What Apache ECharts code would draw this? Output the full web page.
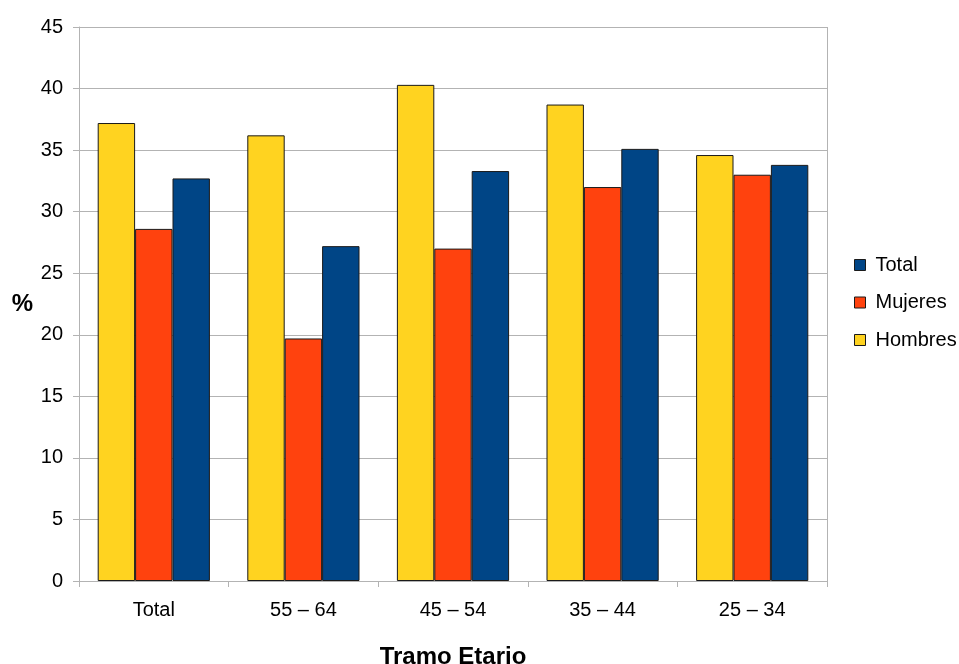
<!DOCTYPE html>
<html>
<head>
<meta charset="utf-8">
<script src="https://cdn.jsdelivr.net/npm/echarts@6/dist/echarts.min.js"></script>
<style>
  html, body { margin: 0; padding: 0; background: #fff; }
  #chart { width: 959px; height: 664px; }
</style>
</head>
<body>
<div id="chart"></div>
<script>
// Age brackets shown on the x axis
const categories = ['Total', '55 – 64', '45 – 54', '35 – 44', '25 – 34'];

// Percentages per bracket
const hombres = [37.2, 36.2, 40.3, 38.7, 34.6];
const mujeres = [28.6, 19.7, 27.0, 32.0, 33.0];
const total   = [32.7, 27.2, 33.3, 35.1, 33.8];

const colors = { hombres: '#ffd320', mujeres: '#ff420e', total: '#004586' };
const font = 'Liberation Sans, Arial, sans-serif';

const chart = echarts.init(document.getElementById('chart'));

function barSeries(name, data, color) {
  return {
    name: name,
    type: 'bar',
    data: data,
    barGap: '0%',
    barCategoryGap: '25%',
    itemStyle: { color: color, borderColor: '#1a1a1a', borderWidth: 1 },
    emphasis: { disabled: true }
  };
}

chart.setOption({
  animation: false,
  textStyle: { fontFamily: font },
  grid: {
    left: 79, right: 132, top: 27, bottom: 83,
    containLabel: false,
    outerBoundsMode: 'none'
  },
  legend: {
    orient: 'vertical',
    left: 854,
    top: 254,
    padding: 0,
    itemWidth: 11,
    itemHeight: 11,
    itemGap: 15.5,
    icon: 'rect',
    data: ['Total', 'Mujeres', 'Hombres'],
    itemStyle: { borderColor: '#1a1a1a', borderWidth: 1 },
    textStyle: { fontSize: 20, lineHeight: 22, color: '#000', fontFamily: font, padding: [0, 0, 0, 5] }
  },
  xAxis: {
    type: 'category',
    data: categories,
    name: 'Tramo Etario',
    nameLocation: 'middle',
    nameGap: 64,
    nameTextStyle: { fontSize: 24, fontWeight: 'bold', color: '#000', fontFamily: font },
    axisLine: { show: true, lineStyle: { color: '#b3b3b3', width: 1 } },
    axisTick: { show: true, length: 6, lineStyle: { color: '#b3b3b3' } },
    axisLabel: { fontSize: 20, color: '#000', margin: 19, fontFamily: font },
    splitLine: { show: false }
  },
  yAxis: {
    type: 'value',
    min: 0,
    max: 45,
    interval: 5,
    name: '%',
    nameLocation: 'middle',
    nameGap: 46,
    nameRotate: 0,
    nameTextStyle: { fontSize: 24, fontWeight: 'bold', color: '#000', fontFamily: font },
    axisLine: { show: true, lineStyle: { color: '#b3b3b3', width: 1 } },
    axisTick: { show: true, length: 6, lineStyle: { color: '#b3b3b3' } },
    axisLabel: { fontSize: 20, color: '#000', margin: 16, fontFamily: font },
    splitLine: { show: true, lineStyle: { color: '#b3b3b3', width: 1 } }
  },
  series: [
    barSeries('Hombres', hombres, colors.hombres),
    barSeries('Mujeres', mujeres, colors.mujeres),
    barSeries('Total', total, colors.total),
    {
      // right-hand frame line of the plot area
      type: 'line',
      data: [],
      markLine: {
        silent: true,
        symbol: 'none',
        label: { show: false },
        lineStyle: { color: '#b3b3b3', type: 'solid', width: 1 },
        data: [[{ x: 827, y: 27 }, { x: 827, y: 581 }]]
      }
    }
  ]
});
</script>
</body>
</html>
